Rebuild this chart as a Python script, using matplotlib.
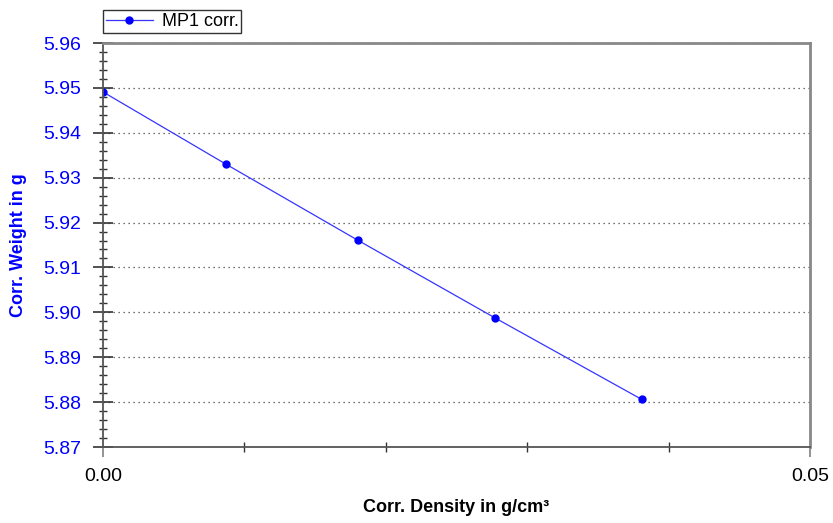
import numpy as np
import matplotlib.pyplot as plt
from matplotlib.ticker import MultipleLocator

plt.rcParams['font.family'] = ['Liberation Sans', 'DejaVu Sans']

# Data
density = [0.0, 0.0087, 0.0180, 0.0277, 0.0381]
weight = [5.9491, 5.9330, 5.9161, 5.8988, 5.8806]
series_name = 'MP1 corr.'

fig = plt.figure(figsize=(8.33, 5.23), dpi=100)
ax = fig.add_axes([103 / 833, 1 - 447 / 523, 707 / 833, 404 / 523])

ax.plot(density, weight, color='#3535ff', linewidth=0.9, marker='o',
        markersize=5, markerfacecolor='#0000ff', markeredgecolor='#0000ff',
        label=series_name)

ax.set_xlim(0, 0.05)
ax.set_ylim(5.87, 5.96)
ax.xaxis.set_major_locator(MultipleLocator(0.05))
ax.xaxis.set_minor_locator(MultipleLocator(0.01))
ax.yaxis.set_major_locator(MultipleLocator(0.01))
ax.yaxis.set_minor_locator(MultipleLocator(0.002))
ax.xaxis.set_major_formatter(plt.FormatStrFormatter('%.2f'))
ax.yaxis.set_major_formatter(plt.FormatStrFormatter('%.2f'))

ax.tick_params(axis='y', which='major', direction='inout', length=14,
               width=1.2, color='#333333', labelsize=14, labelcolor='#0000ff', pad=9)
ax.tick_params(axis='y', which='minor', direction='inout', length=6,
               width=1, color='#333333')
ax.tick_params(axis='x', which='major', direction='out', length=7,
               width=1.2, color='#808080', labelsize=14, labelcolor='black', pad=8)
ax.tick_params(axis='x', which='minor', direction='inout', length=7,
               width=1, color='#333333')

ax.grid(axis='y', which='major', linestyle=(0, (1, 3)), color='#444444', linewidth=0.9)

for side in ['left', 'bottom']:
    ax.spines[side].set_color('#555555')
    ax.spines[side].set_linewidth(1.3)
for side in ['top', 'right']:
    ax.spines[side].set_color('#888888')
    ax.spines[side].set_linewidth(2)

ax.set_xlabel('Corr. Density in g/cm³', fontsize=13, fontweight='bold', labelpad=10)
ax.set_ylabel('Corr. Weight in g', fontsize=13, fontweight='bold', color='#0000ff', labelpad=11)

leg = ax.legend(loc='lower left', bbox_to_anchor=(0.0, 1.025), fontsize=13,
                frameon=True, fancybox=False, borderpad=0.15, handlelength=2.6,
                handletextpad=0.5, borderaxespad=0)
leg.get_frame().set_edgecolor('black')
leg.get_frame().set_linewidth(1)

fig.savefig('out.png', dpi=100)
